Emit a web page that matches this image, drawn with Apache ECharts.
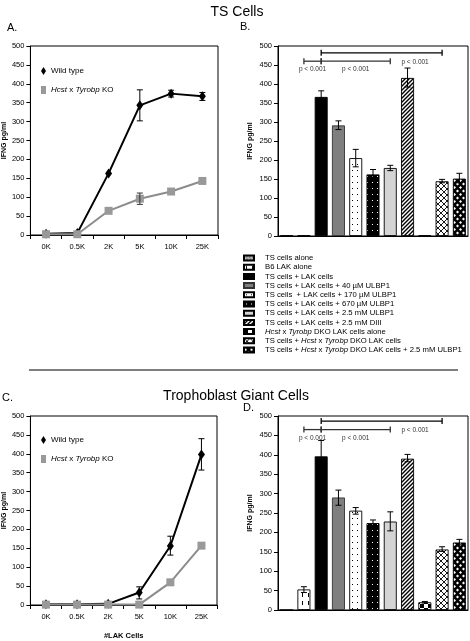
<!DOCTYPE html>
<html><head><meta charset="utf-8">
<script src="https://cdn.jsdelivr.net/npm/echarts@6/dist/echarts.min.js"></script>
<style>html,body{margin:0;padding:0;background:#fff}#c{width:470px;height:641px}</style>
</head><body><div id="c"></div>
<script>
// ---------- DATA ----------
const lakCells = ['0K','0.5K','2K','5K','10K','25K'];
const lineNames = ['Wild type','Hcst x Tyrobp KO'];
// Panel A (TS cells)
const aWild = [3, 5, 163, 343, 374, 367];
const aWildErr = [[null,null],[null,null],[null,null],[302,384],[365,383],[356,377]];
const aKO = [2, 2, 64, 96, 115, 143];
const aKOErr = [[null,null],[null,null],[null,null],[81,111],[null,null],[null,null]];
// Panel C (Trophoblast giant cells)
const cWild = [2, 2, 3, 33, 156, 398];
const cWildErr = [[null,null],[null,null],[null,null],[16,48],[132,182],[357,440]];
const cKO = [1, 1, 1, 1, 60, 157];
const cKOErr = [[null,null],[null,null],[null,null],[null,null],[null,null],[null,null]];

const groups = [
  'TS cells alone',
  'B6 LAK alone',
  'TS cells + LAK cells',
  'TS cells + LAK cells + 40 µM ULBP1',
  'TS cells  + LAK cells + 170 µM ULBP1',
  'TS cells + LAK cells + 670 µM ULBP1',
  'TS cells + LAK cells + 2.5 mM ULBP1',
  'TS cells + LAK cells + 2.5 mM DIII',
  'Hcst x Tyrobp DKO LAK cells alone',
  'TS cells + Hcst x Tyrobp DKO LAK cells',
  'TS cells + Hcst x Tyrobp DKO LAK cells + 2.5 mM ULBP1'
];
// Panel B
const bVals = [1.5, 1.5, 366, 291, 205, 162, 179, 416, 1.5, 144, 151];
const bErr = [null, null, [350,382], [280,303], [182,228], [149,175], [172,186], [392,442], null, [140,149], [140,165]];
// Panel D
const dVals = [0, 53, 396, 290, 256, 224, 228, 390, 20, 156, 174];
const dErr = [null, [45,60], [356,437], [270,309], [247,264], [216,232], [204,253], [382,401], [18,22], [151,163], [168,182]];
// significance brackets: [fromGroup, toGroup, level]
const bBrackets = [[1, 2, 460], [2, 6, 460], [2, 9, 482]];
const dBrackets = [[1, 2, 465], [2, 6, 465], [2, 9, 487]];
const pLabels = ['p < 0.001', 'p < 0.001', 'p < 0.001'];
const yTicks = {min: 0, max: 500, step: 50};

// ---------- PATTERNS ----------
function pat(w, h, draw) {
  const c = document.createElement('canvas'); c.width = w; c.height = h;
  const g = c.getContext('2d'); draw(g, w, h);
  return {image: c, repeat: 'repeat'};
}
const fills = [
  pat(3,3,(g)=>{g.fillStyle='#b0b0b0';g.fillRect(0,0,3,3);g.fillStyle='#666';g.fillRect(0,0,1,1);g.fillRect(2,1,1,1);}),
  pat(6,8,(g)=>{g.fillStyle='#fff';g.fillRect(0,0,6,8);g.fillStyle='#000';g.fillRect(2,1,1,4);}),
  '#000000',
  '#7f7f7f',
  pat(5,6,(g)=>{g.fillStyle='#fff';g.fillRect(0,0,5,6);g.fillStyle='#000';g.fillRect(2,2,1,1);}),
  pat(5,6,(g)=>{g.fillStyle='#000';g.fillRect(0,0,5,6);g.fillStyle='#fff';g.fillRect(2,2,1,1);}),
  '#d4d4d4',
  pat(4,4,(g)=>{g.fillStyle='#fff';g.fillRect(0,0,4,4);g.strokeStyle='#000';g.lineWidth=1.4;g.beginPath();g.moveTo(-1,5);g.lineTo(5,-1);g.moveTo(-1,1);g.lineTo(1,-1);g.moveTo(3,5);g.lineTo(5,3);g.stroke();}),
  pat(8,8,(g)=>{g.fillStyle='#fff';g.fillRect(0,0,8,8);g.fillStyle='#000';g.fillRect(0,0,4,4);g.fillRect(4,4,4,4);}),
  pat(6,6,(g)=>{g.fillStyle='#fff';g.fillRect(0,0,6,6);g.strokeStyle='#000';g.lineWidth=0.9;g.beginPath();g.moveTo(0,0);g.lineTo(6,6);g.moveTo(6,0);g.lineTo(0,6);g.stroke();}),
  pat(6,7,(g)=>{g.fillStyle='#000';g.fillRect(0,0,6,7);g.fillStyle='#fff';g.beginPath();g.moveTo(1.5,0.5);g.lineTo(3,2);g.lineTo(1.5,3.5);g.lineTo(0,2);g.closePath();g.fill();g.beginPath();g.moveTo(4.5,4);g.lineTo(6,5.5);g.lineTo(4.5,7);g.lineTo(3,5.5);g.closePath();g.fill();})
];

const FONT = 'Liberation Sans, Arial, sans-serif';
const chart = echarts.init(document.getElementById('c'), null, {renderer: 'canvas'});

const grids = [
  {left: 29, top: 46, width: 189, height: 189},
  {left: 278, top: 46, width: 190, height: 190},
  {left: 27, top: 416, width: 190, height: 193},
  {left: 278, top: 416, width: 190, height: 194}
].map(g => Object.assign({show: true, borderColor: '#000', borderWidth: 1, backgroundColor: 'transparent'}, g));

function yAxis(gi, nameGap) {
  return {
    type: 'value', gridIndex: gi, min: yTicks.min, max: yTicks.max, interval: yTicks.step,
    name: 'IFNG pg/ml', nameLocation: 'middle', nameGap: nameGap,
    nameTextStyle: {fontFamily: FONT, fontSize: 7, fontWeight: 'bold', color: '#000'},
    axisLine: {show: true, lineStyle: {color: '#000', width: 1}},
    axisTick: {show: true, length: 4, lineStyle: {color: '#000'}},
    splitLine: {show: false},
    axisLabel: {fontFamily: FONT, fontSize: 7.5, color: '#000', margin: 6}
  };
}
function lineX(gi, withName) {
  const ax = {
    type: 'category', gridIndex: gi, data: lakCells, boundaryGap: true,
    axisLine: {show: true, lineStyle: {color: '#000', width: 1}},
    axisTick: {show: true, length: 4, lineStyle: {color: '#000'}},
    axisLabel: {fontFamily: FONT, fontSize: 7.5, color: '#000', margin: 8}
  };
  if (withName) {
    ax.name = '#LAK Cells'; ax.nameLocation = 'middle'; ax.nameGap = 27;
    ax.nameTextStyle = {fontFamily: FONT, fontSize: 7.5, fontWeight: 'bold', color: '#000'};
  }
  return ax;
}
function barX(gi) {
  return {
    type: 'category', gridIndex: gi, data: groups, boundaryGap: true,
    axisLine: {show: true, lineStyle: {color: '#000', width: 1}},
    axisTick: {show: false}, axisLabel: {show: false}
  };
}

function errSeries(xi, data, color, hw) {
  return {
    type: 'custom', xAxisIndex: xi, yAxisIndex: xi, z: 5, silent: true,
    encode: {x: 0, y: [1, 2]},
    data: data,
    renderItem: function (params, api) {
      const x = api.value(0), lo = api.value(1), hi = api.value(2);
      if (lo == null || isNaN(lo)) return null;
      const p1 = api.coord([x, hi]), p2 = api.coord([x, lo]);
      const st = {stroke: color, lineWidth: 1};
      return {type: 'group', children: [
        {type: 'line', shape: {x1: p1[0], y1: p1[1], x2: p2[0], y2: p2[1]}, style: st},
        {type: 'line', shape: {x1: p1[0]-hw, y1: p1[1], x2: p1[0]+hw, y2: p1[1]}, style: st},
        {type: 'line', shape: {x1: p2[0]-hw, y1: p2[1], x2: p2[0]+hw, y2: p2[1]}, style: st}
      ]};
    }
  };
}
function toErrData(err) {
  return err.map((e, i) => e && e[0] != null ? [i, e[0], e[1]] : [i, null, null]);
}

function bracketSeries(xi, brackets) {
  return {
    type: 'custom', xAxisIndex: xi, yAxisIndex: xi, z: 6, silent: true,
    encode: {x: [0, 1], y: 2},
    data: brackets,
    renderItem: function (params, api) {
      const a = api.coord([api.value(0), api.value(2)]);
      const b = api.coord([api.value(1), api.value(2)]);
      const st = {stroke: params.dataIndex === 2 ? '#000' : '#333', lineWidth: 1.3};
      const idx = params.dataIndex;
      let tx = (a[0] + b[0]) / 2, ty = a[1] + 5;
      if (idx === 2) { tx = b[0] - 27; ty = a[1] + 6; }
      return {type: 'group', children: [
        {type: 'line', shape: {x1: a[0], y1: a[1], x2: b[0], y2: b[1]}, style: st},
        {type: 'line', shape: {x1: a[0], y1: a[1]-3, x2: a[0], y2: a[1]+3}, style: st},
        {type: 'line', shape: {x1: b[0], y1: b[1]-3, x2: b[0], y2: b[1]+3}, style: st},
        {type: 'text', style: {text: pLabels[idx], x: tx, y: ty, textAlign: 'center', textVerticalAlign: 'top',
          fontFamily: FONT, fontSize: 6.5, fill: '#333'}}
      ]};
    }
  };
}

const series = [];
// line panels
[[0, aWild, aKO, aWildErr, aKOErr], [2, cWild, cKO, cWildErr, cKOErr]].forEach(([xi, w, k, we, ke]) => {
  series.push({
    type: 'line', name: lineNames[0], xAxisIndex: xi, yAxisIndex: xi, data: w,
    symbol: 'diamond', symbolSize: [7, 10], z: 3,
    lineStyle: {color: '#000', width: 2}, itemStyle: {color: '#000'}
  });
  series.push({
    type: 'line', name: lineNames[1], xAxisIndex: xi, yAxisIndex: xi, data: k,
    symbol: 'rect', symbolSize: [8, 8], z: 4,
    lineStyle: {color: '#8c8c8c', width: 2}, itemStyle: {color: '#999999'}
  });
  series.push(errSeries(xi, toErrData(we), '#000', 3));
  series.push(errSeries(xi, toErrData(ke), '#333', 3));
});
// bar panels
[[1, bVals, bErr, bBrackets], [3, dVals, dErr, dBrackets]].forEach(([xi, vals, err, br]) => {
  groups.forEach((g, i) => {
    series.push({
      type: 'bar', name: g, xAxisIndex: xi, yAxisIndex: xi, stack: 'p' + xi, barWidth: 13,
      data: vals.map((v, j) => j === i ? v : '-'),
      itemStyle: {color: fills[i], borderColor: i === 3 ? '#333' : '#000', borderWidth: 0.9},
      emphasis: {disabled: true}
    });
  });
  series.push(errSeries(xi, toErrData(err), '#000', 3));
  series.push(bracketSeries(xi, br));
});

const richI = {i: {fontStyle: 'italic', fontSize: 7.7, fontFamily: FONT, color: '#000'}};
const richIL = {i: {fontStyle: 'italic', fontSize: 8, fontFamily: FONT, color: '#000'}};
const italicFmt = n => n.replace('Hcst', '{i|Hcst}').replace('Tyrobp', '{i|Tyrobp}');

function lineLegend(top) {
  return {
    orient: 'vertical', left: 41, top: top, padding: 0, itemWidth: 5, itemHeight: 8, itemGap: 11,
    selectedMode: false,
    data: [{name: lineNames[0], icon: 'diamond'}, {name: lineNames[1], icon: 'rect'}],
    formatter: italicFmt,
    textStyle: {fontFamily: FONT, fontSize: 8, color: '#000', rich: richIL}
  };
}
const tStyle = {fontFamily: FONT, fontSize: 14, fontWeight: 'normal', color: '#000'};
const lStyle = {fontFamily: FONT, fontSize: 11, fontWeight: 'normal', color: '#000'};

chart.setOption({
  animation: false,
  backgroundColor: '#fff',
  textStyle: {fontFamily: FONT},
  title: [
    {text: 'TS Cells', left: 237, top: 5, padding: 0, textAlign: 'center', textStyle: tStyle},
    {text: 'Trophoblast Giant Cells', left: 236, top: 389, padding: 0, textAlign: 'center', textStyle: tStyle},
    {text: 'A.', left: 7, top: 22, padding: 0, textStyle: lStyle},
    {text: 'B.', left: 240, top: 21, padding: 0, textStyle: lStyle},
    {text: 'C.', left: 2, top: 392, padding: 0, textStyle: lStyle},
    {text: 'D.', left: 243, top: 402, padding: 0, textStyle: lStyle}
  ],
  legend: [
    lineLegend(67),
    lineLegend(436),
    {
      orient: 'vertical', left: 243, top: 254, padding: 0, itemWidth: 10, itemHeight: 5, itemGap: 1.2, icon: 'rect',
      selectedMode: false, data: groups, formatter: italicFmt,
      textStyle: {fontFamily: FONT, fontSize: 7.7, color: '#000', padding: [0, 0, 0, 6], lineHeight: 8, rich: richI}
    }
  ],
  grid: grids,
  xAxis: [lineX(0, false), barX(1), lineX(2, true), barX(3)],
  yAxis: [yAxis(0, 17), yAxis(1, 24), yAxis(2, 17), yAxis(3, 24)],
  graphic: [{type: 'line', shape: {x1: 29, y1: 370, x2: 458, y2: 370}, style: {stroke: '#000', lineWidth: 1.2}}],
  series: series
});
</script></body></html>
